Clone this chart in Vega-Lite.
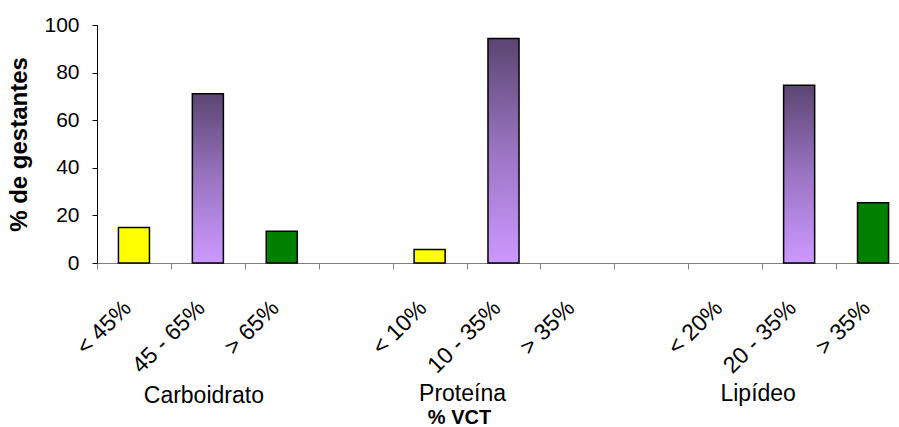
{
  "$schema": "https://vega.github.io/schema/vega-lite/v6.json",
  "width": 802,
  "height": 238,
  "autosize": {"type": "none"},
  "padding": {"left": 97, "top": 25, "right": 0, "bottom": 164},
  "background": "white",
  "config": {
    "view": {"stroke": null},
    "font": "Liberation Sans",
    "axis": {"grid": false}
  },
  "datasets": {
    "consumo": [
      {"slot": "< 45%", "grupo": "Carboidrato", "faixa": "abaixo", "pct": 14.9},
      {"slot": "45 - 65%", "grupo": "Carboidrato", "faixa": "adequado", "pct": 71.1},
      {"slot": "> 65%", "grupo": "Carboidrato", "faixa": "acima", "pct": 13.3},
      {"slot": "< 10%", "grupo": "Proteína", "faixa": "abaixo", "pct": 5.7},
      {"slot": "10 - 35%", "grupo": "Proteína", "faixa": "adequado", "pct": 94.3},
      {"slot": "20 - 35%", "grupo": "Lipídeo", "faixa": "adequado", "pct": 74.7},
      {"slot": "> 35% ", "grupo": "Lipídeo", "faixa": "acima", "pct": 25.3}
    ],
    "grupos": [
      {"slot": "45 - 65%", "grupo": "Carboidrato"},
      {"slot": "10 - 35%", "grupo": "Proteína"},
      {"slot": "20 - 35%", "grupo": "Lipídeo"}
    ]
  },
  "encoding": {
    "x": {
      "field": "slot",
      "type": "nominal",
      "sort": null,
      "scale": {
        "type": "band",
        "domain": ["< 45%", "45 - 65%", "> 65%", " ", "< 10%", "10 - 35%", "> 35%", "  ", "< 20%", "20 - 35%", "> 35% "],
        "range": [0, 813],
        "paddingInner": 0,
        "paddingOuter": 0
      },
      "axis": {
        "title": "% VCT",
        "titleFontSize": 20,
        "titleFontWeight": "bold",
        "titleColor": "#000",
        "titleX": 362,
        "titleY": 160,
        "titleAlign": "center",
        "titleBaseline": "alphabetic",
        "labelExpr": "trim(datum.label)",
        "labelAngle": -45,
        "labelAlign": "right",
        "labelBaseline": "middle",
        "labelFontSize": 23,
        "labelColor": "#000",
        "labelPadding": 35,
        "labelOffset": -7,
        "labelOverlap": false,
        "labelLimit": 0,
        "tickBand": "extent",
        "tickSize": 6,
        "tickColor": "#808080",
        "domainColor": "#808080"
      }
    },
    "y": {
      "field": "pct",
      "type": "quantitative",
      "scale": {"domain": [0, 100], "nice": false},
      "axis": {
        "title": "% de gestantes",
        "titleFontSize": 24,
        "titleFontWeight": "bold",
        "titleColor": "#000",
        "titlePadding": 12,
        "values": [0, 20, 40, 60, 80, 100],
        "labelFontSize": 21,
        "labelColor": "#000",
        "labelPadding": 13,
        "tickSize": 5,
        "tickColor": "#000",
        "domainColor": "#000"
      }
    }
  },
  "layer": [
    {
      "data": {"name": "consumo"},
      "transform": [{"filter": "datum.faixa !== 'adequado'"}],
      "mark": {"type": "bar", "width": {"band": 0.42}, "stroke": "#000", "strokeWidth": 1.5},
      "encoding": {
        "fill": {
          "field": "faixa",
          "type": "nominal",
          "scale": {"domain": ["abaixo", "acima"], "range": ["#ffff00", "#008000"]},
          "legend": null
        }
      }
    },
    {
      "data": {"name": "consumo"},
      "transform": [{"filter": "datum.faixa === 'adequado'"}],
      "mark": {
        "type": "bar",
        "width": {"band": 0.42},
        "stroke": "#000",
        "strokeWidth": 1.5,
        "fill": {
          "gradient": "linear",
          "x1": 0, "y1": 0, "x2": 0, "y2": 1,
          "stops": [
            {"offset": 0, "color": "#5b4571"},
            {"offset": 0.5, "color": "#9a74c2"},
            {"offset": 1, "color": "#cc99ff"}
          ]
        }
      },
      "encoding": {}
    },
    {
      "data": {"name": "grupos"},
      "transform": [{"filter": "datum.grupo === 'Carboidrato'"}],
      "mark": {"type": "text", "fontSize": 23, "align": "center", "baseline": "alphabetic", "dx": -4, "color": "#000", "clip": false},
      "encoding": {
        "x": {"field": "slot", "type": "nominal", "bandPosition": 0.5},
        "y": {"value": 378},
        "text": {"field": "grupo", "type": "nominal"}
      }
    },
    {
      "data": {"name": "grupos"},
      "transform": [{"filter": "datum.grupo !== 'Carboidrato'"}],
      "mark": {"type": "text", "fontSize": 23, "align": "center", "baseline": "alphabetic", "dx": -4, "color": "#000", "clip": false},
      "encoding": {
        "x": {"field": "slot", "type": "nominal", "bandPosition": 0},
        "y": {"value": 376},
        "text": {"field": "grupo", "type": "nominal"}
      }
    }
  ]
}
